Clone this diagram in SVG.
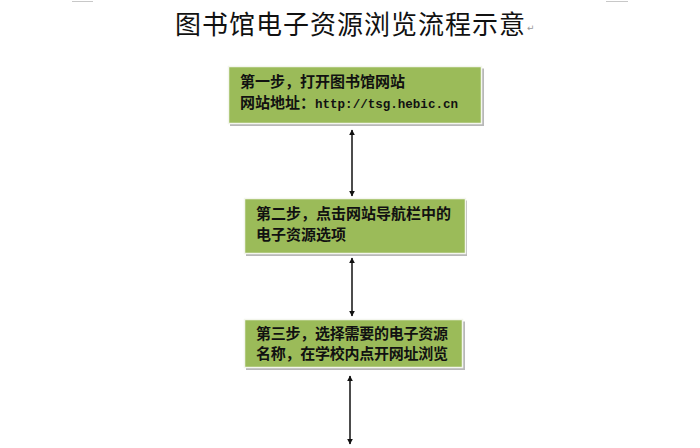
<svg xmlns="http://www.w3.org/2000/svg" width="700" height="448" viewBox="0 0 700 448">
<style>
.title{font-family:"Noto Sans CJK SC","Liberation Serif",serif;font-size:26px;fill:#111;}
.lbl{font-family:"Noto Sans CJK SC",sans-serif;font-size:15px;font-weight:bold;fill:#111;}
.mono{font-family:"Liberation Mono","Noto Sans CJK SC",monospace;font-size:13px;font-weight:bold;fill:#111;}
.box{fill:#9bbb59;stroke:#f4f6ee;stroke-width:1.5;}
.shadow{fill:#b8b8b8;}
.conn{stroke:#111;stroke-width:1.5;fill:none;marker-start:url(#ah);marker-end:url(#ah);}
.mark{stroke:#c8c8c8;stroke-width:1;}
</style>
<defs>
<marker id="ah" viewBox="0 0 10 10" refX="9" refY="5" markerWidth="6" markerHeight="6" orient="auto-start-reverse" markerUnits="userSpaceOnUse">
<path d="M0,0 L10,5 L0,10 z" fill="#111"/>
</marker>
</defs>
<rect width="700" height="448" fill="#fff"/>
<line class="mark" x1="72" y1="1.5" x2="93" y2="1.5"/>
<line class="mark" x1="606" y1="1.5" x2="628" y2="1.5"/>
<text class="title" x="350" y="34" text-anchor="middle" textLength="350" lengthAdjust="spacing">图书馆电子资源浏览流程示意</text>
<text x="527" y="31" font-family="DejaVu Sans,sans-serif" font-size="9" fill="#999">↵</text>
<g id="step1">
<rect class="shadow" x="230" y="68.5" width="254" height="57.5"/>
<rect class="box" x="228.5" y="66.5" width="253" height="57"/>
<text class="lbl" x="240" y="87" textLength="165" lengthAdjust="spacing">第一步，打开图书馆网站</text>
<text class="lbl" x="240" y="108">网站地址：</text>
<text class="mono" x="315" y="108" textLength="143" lengthAdjust="spacingAndGlyphs">http://tsg.hebic.cn</text>
</g>
<g id="step2">
<rect class="shadow" x="246" y="200.5" width="221" height="55.5"/>
<rect class="box" x="244.5" y="198.5" width="221" height="55"/>
<text class="lbl" x="256" y="219">第二步，点击网站导航栏中的</text>
<text class="lbl" x="256" y="240">电子资源选项</text>
</g>
<g id="step3">
<rect class="shadow" x="246" y="321.5" width="219" height="48.5"/>
<rect class="box" x="244.5" y="319.5" width="218" height="48"/>
<text class="lbl" x="256" y="339" textLength="192" lengthAdjust="spacing">第三步，选择需要的电子资源</text>
<text class="lbl" x="256" y="359" textLength="192" lengthAdjust="spacing">名称，在学校内点开网址浏览</text>
</g>
<g id="connectors">
<line class="conn" x1="352" y1="130" x2="352" y2="196"/>
<line class="conn" x1="352" y1="258" x2="352" y2="316"/>
<line class="conn" x1="350" y1="376" x2="350" y2="444"/>
</g>
</svg>
